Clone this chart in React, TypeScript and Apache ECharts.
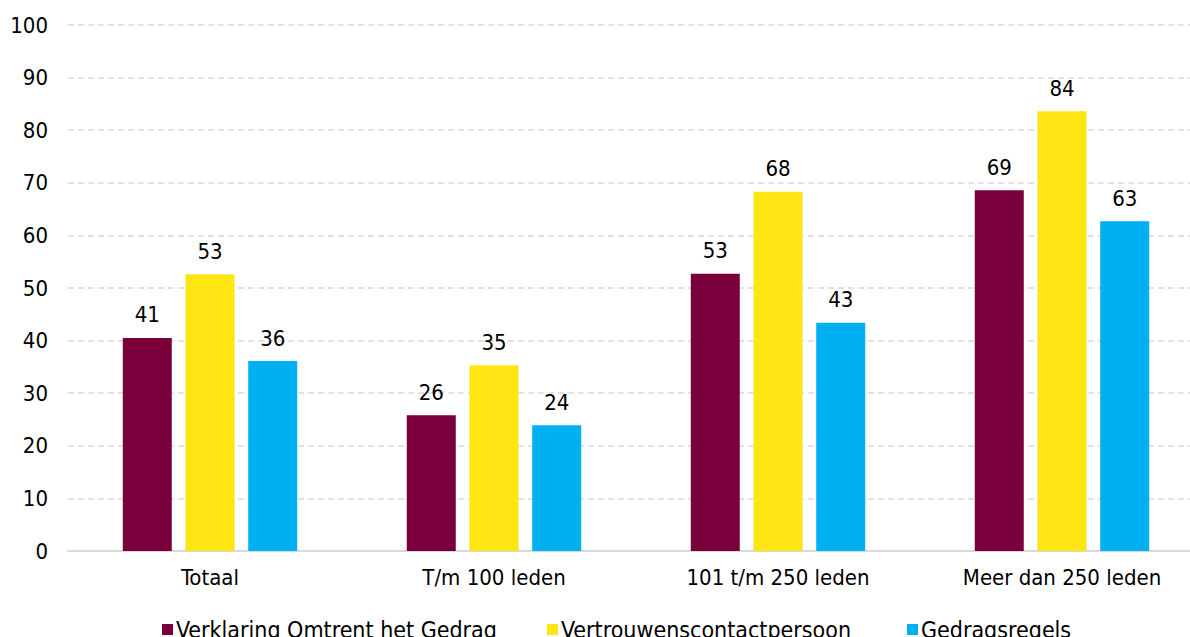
import React, { useEffect, useRef } from "react";
import * as echarts from "echarts";

const categories = ["Totaal", "T/m 100 leden", "101 t/m 250 leden", "Meer dan 250 leden"];
const seriesNames = ["Verklaring Omtrent het Gedrag", "Vertrouwenscontactpersoon", "Gedragsregels"];
const vogValues = [40.5, 25.8, 52.7, 68.6];
const vcpValues = [52.6, 35.3, 68.3, 83.6];
const regelsValues = [36.1, 23.9, 43.4, 62.7];
const yTicks = { min: 0, max: 100, interval: 10 };
const colors = ["#7A003C", "#FFE512", "#00B0F0"];
const legendLefts = [157, 542, 902];

export default function App() {
  const ref = useRef<HTMLDivElement>(null);
  useEffect(() => {
    if (!ref.current) return;
    const chart = echarts.init(ref.current, undefined, { renderer: "svg" });
    const font = "'DejaVu Sans Condensed', 'DejaVu Sans', sans-serif";
    const fs = 22;
    const data = [vogValues, vcpValues, regelsValues];
    chart.setOption({
      animation: false,
      textStyle: { fontFamily: font },
      grid: { left: 68, top: 25, width: 1136, height: 526, containLabel: false },
      legend: seriesNames.map((name, i) => ({
        data: [name],
        left: legendLefts[i],
        top: 613,
        itemWidth: 11,
        itemHeight: 11,
        icon: "rect",
        textStyle: { fontFamily: font, fontSize: 23, color: "#000", padding: [0, 0, 0, -2] },
      })),
      xAxis: {
        type: "category",
        data: categories,
        axisLine: { lineStyle: { color: "#d9d9d9", width: 2 } },
        axisTick: { show: false },
        axisLabel: { fontFamily: font, fontSize: fs, color: "#000", margin: 15 },
      },
      yAxis: {
        type: "value",
        min: yTicks.min,
        max: yTicks.max,
        interval: yTicks.interval,
        axisLine: { show: false },
        axisTick: { show: false },
        axisLabel: { fontFamily: font, fontSize: fs, color: "#000", margin: 20 },
        splitLine: { lineStyle: { color: "#d9d9d9", type: [6, 4], width: 1.5 } },
      },
      series: seriesNames.map((name, i) => ({
        name,
        type: "bar",
        data: data[i],
        barWidth: 49,
        barGap: "28%",
        itemStyle: { color: colors[i] },
        label: {
          show: true,
          position: "top",
          distance: 12,
          fontFamily: font,
          fontSize: fs,
          color: "#000",
          formatter: (p: any) => String(Math.round(p.value)),
        },
      })),
    });
    return () => chart.dispose();
  }, []);
  return (
    <div style={{ width: 1190, height: 637, position: "absolute", left: 0, top: 0, overflow: "hidden" }}>
      <div ref={ref} style={{ width: 1210, height: 637 }} />
    </div>
  );
}
